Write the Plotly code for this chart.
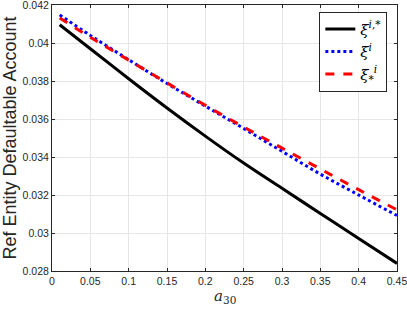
import plotly.graph_objects as go

a30 = [0.01, 0.05, 0.10, 0.15, 0.20, 0.25, 0.30, 0.35, 0.40, 0.45]
xi_istar = [0.04096, 0.03970, 0.03812, 0.03658, 0.03510, 0.03368, 0.03235, 0.03103, 0.02971, 0.02840]
xi_i = [0.04148, 0.04040, 0.03912, 0.03787, 0.03668, 0.03550, 0.03430, 0.03310, 0.03200, 0.03092]
xi_star = [0.04132, 0.04030, 0.03910, 0.03790, 0.03672, 0.03558, 0.03447, 0.03337, 0.03228, 0.03122]

x_ticks = [0, 0.05, 0.1, 0.15, 0.2, 0.25, 0.3, 0.35, 0.4, 0.45]
x_ticklabels = ["0", "0.05", "0.1", "0.15", "0.2", "0.25", "0.3", "0.35", "0.4", "0.45"]
y_ticks = [0.028, 0.030, 0.032, 0.034, 0.036, 0.038, 0.040, 0.042]
y_ticklabels = ["0.028", "0.03", "0.032", "0.034", "0.036", "0.038", "0.04", "0.042"]

names = ["<i>ξ</i><sup><i>i</i>,*</sup>", "<i>ξ</i><sup><i>i</i></sup>", "<i>ξ</i><sub>*</sub><sup><i>i</i></sup>"]

fig = go.Figure()
fig.add_trace(go.Scatter(x=a30, y=xi_istar, mode="lines", name=names[0],
                         line=dict(color="black", width=3, shape="spline")))
fig.add_trace(go.Scatter(x=a30, y=xi_i, mode="lines", name=names[1],
                         line=dict(color="blue", width=3, dash="dot", shape="spline")))
fig.add_trace(go.Scatter(x=a30, y=xi_star, mode="lines", name=names[2],
                         line=dict(color="red", width=3, dash="dash", shape="spline")))

axis_common = dict(
    showline=True, linecolor="#262626", linewidth=1, mirror="ticks",
    ticks="inside", ticklen=3, tickcolor="#262626",
    showgrid=True, gridcolor="#e6e6e6", gridwidth=1, zeroline=False,
    ticklabeloverflow="allow",
    tickfont=dict(family="Liberation Sans, Arial, sans-serif", size=10.5, color="#262626"),
)

fig.update_layout(
    width=407, height=309,
    margin=dict(l=52, r=10, t=5, b=38, autoexpand=False),
    paper_bgcolor="white", plot_bgcolor="white",
    xaxis=dict(range=[0, 0.45], tickvals=x_ticks, ticktext=x_ticklabels, **axis_common),
    yaxis=dict(range=[0.028, 0.042], tickvals=y_ticks, ticktext=y_ticklabels, **axis_common),
    legend=dict(x=0.972, y=0.975, xanchor="right", yanchor="top",
                bgcolor="white", bordercolor="#262626", borderwidth=1,
                font=dict(family="DejaVu Serif, serif", size=15, color="black"),
                itemwidth=30, tracegroupgap=0),
    showlegend=True,
    annotations=[
        dict(text="<i>a</i><sub>30</sub>", xref="paper", yref="paper",
             x=0.5, y=-0.095, xanchor="center", yanchor="middle", showarrow=False,
             font=dict(family="DejaVu Serif, serif", size=15, color="#262626")),
        dict(text="Ref Entity Defaultable Account", xref="paper", yref="paper",
             x=-0.123, y=0.5, xanchor="center", yanchor="middle", showarrow=False,
             textangle=-90,
             font=dict(family="Liberation Sans, Arial, sans-serif", size=18, color="#262626")),
    ],
)

fig.write_html("out.html", config={"displayModeBar": False},
               post_script="document.body.style.margin='0';document.body.style.overflow='hidden';")
